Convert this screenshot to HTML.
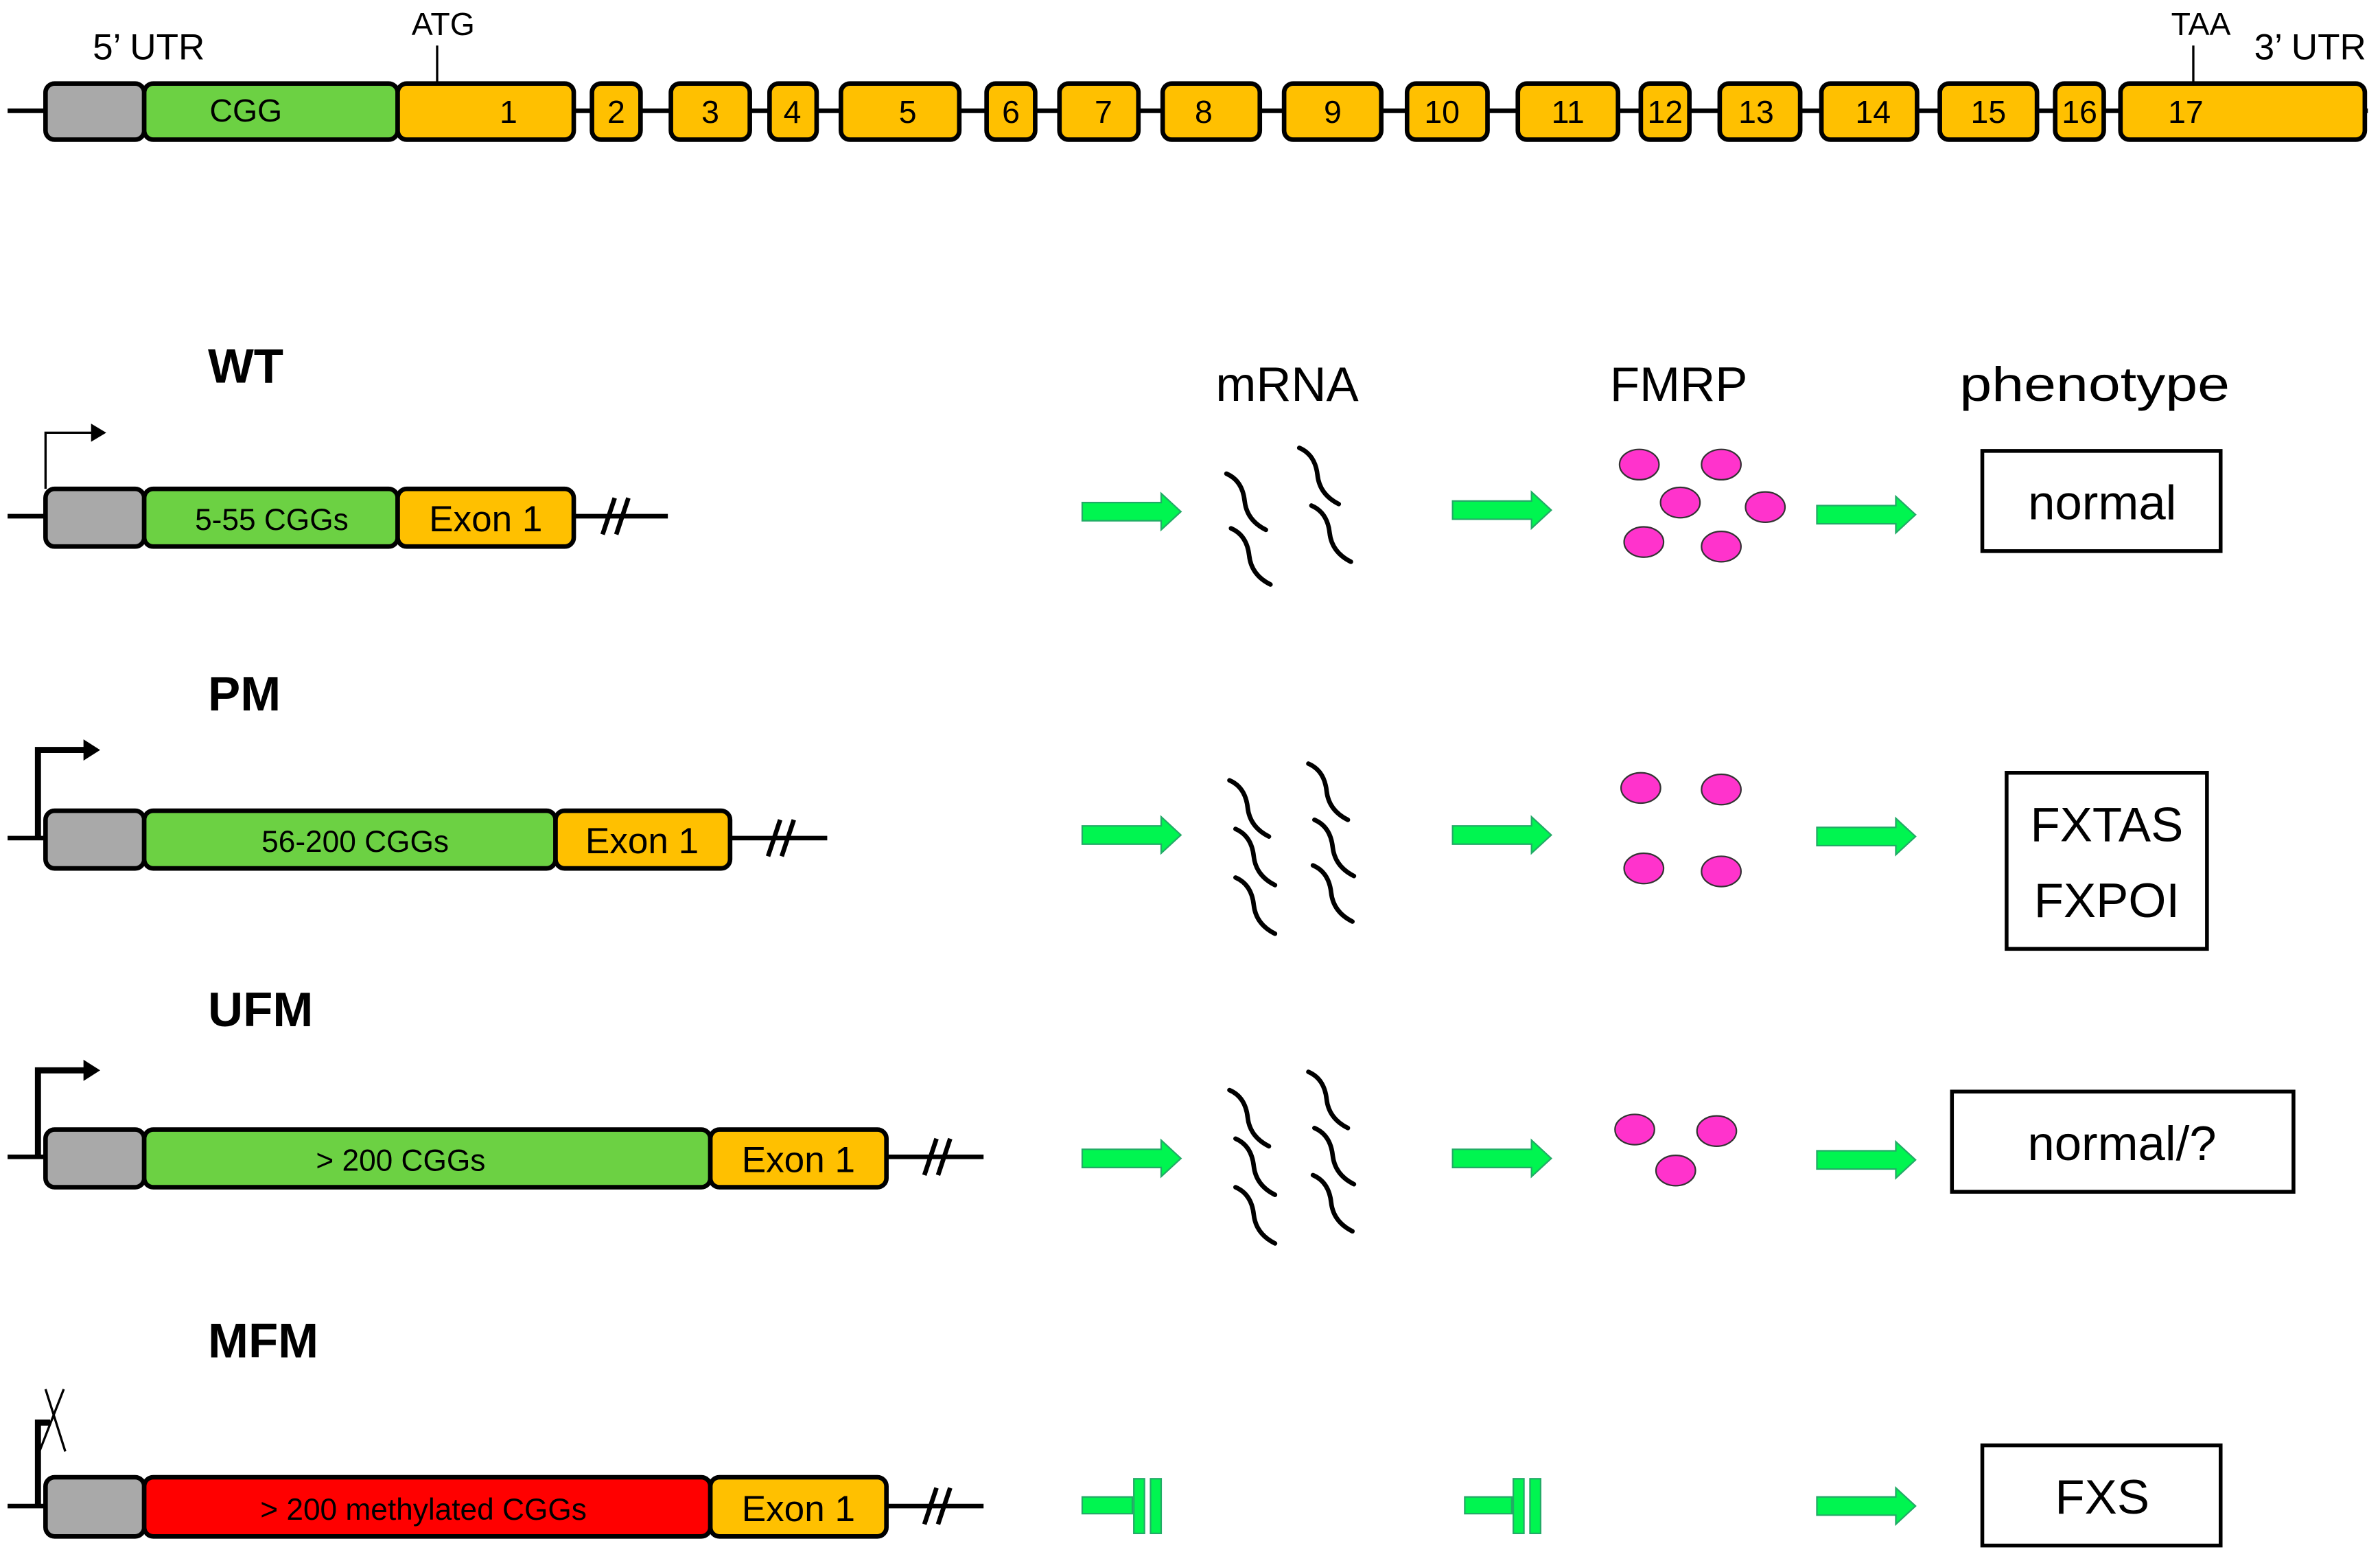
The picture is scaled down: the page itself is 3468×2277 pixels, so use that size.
<!DOCTYPE html>
<html><head><meta charset="utf-8"><style>html,body{margin:0;padding:0;background:#fff}svg{display:block}</style></head>
<body>
<svg width="3468" height="2277" viewBox="0 0 1568 1029.5" preserveAspectRatio="none" xmlns="http://www.w3.org/2000/svg" font-family="Liberation Sans, sans-serif">
<defs>
<g id="sq"><path d="M0,0 c7,3 11,9 12,18 c1,9 6,15 14,19" fill="none" stroke="#000" stroke-width="3" stroke-linecap="round"/></g>
<g id="ga"><path d="M0,-6 H52 V-12 L65,0 L52,12 V6 H0 Z" fill="#00f550" stroke="#2a6" stroke-width="1"/></g>
<g id="ov"><ellipse rx="13" ry="10" fill="#ff33cc" stroke="#333" stroke-width="1"/></g>
</defs>
<g stroke="#000" stroke-width="3">
<line x1="5" y1="73" x2="1560" y2="73"/>
<line x1="288" y1="30" x2="288" y2="55" stroke-width="1.5"/>
<line x1="1445" y1="30" x2="1445" y2="55" stroke-width="1.5"/>
<rect x="30" y="55" width="65" height="37" rx="6" fill="#a9a9a9"/>
<rect x="95" y="55" width="167" height="37" rx="6" fill="#6cd143"/>
<g fill="#ffc000">
<rect x="262" y="55" width="116" height="37" rx="6"/>
<rect x="390" y="55" width="32" height="37" rx="6"/>
<rect x="442" y="55" width="52" height="37" rx="6"/>
<rect x="507" y="55" width="31" height="37" rx="6"/>
<rect x="554" y="55" width="78" height="37" rx="6"/>
<rect x="650" y="55" width="32" height="37" rx="6"/>
<rect x="698" y="55" width="52" height="37" rx="6"/>
<rect x="766" y="55" width="64" height="37" rx="6"/>
<rect x="846" y="55" width="64" height="37" rx="6"/>
<rect x="927" y="55" width="53" height="37" rx="6"/>
<rect x="1000" y="55" width="66" height="37" rx="6"/>
<rect x="1081" y="55" width="32" height="37" rx="6"/>
<rect x="1133" y="55" width="53" height="37" rx="6"/>
<rect x="1200" y="55" width="63" height="37" rx="6"/>
<rect x="1278" y="55" width="64" height="37" rx="6"/>
<rect x="1354" y="55" width="32" height="37" rx="6"/>
<rect x="1397" y="55" width="161" height="37" rx="6"/>
</g>
<line x1="5" y1="340" x2="440" y2="340"/>
<polyline points="30,322 30,285 62,285" fill="none" stroke-width="1.5"/>
<rect x="30" y="322" width="65" height="38" rx="6" fill="#a9a9a9"/>
<rect x="95" y="322" width="167" height="38" rx="6" fill="#6cd143"/>
<rect x="262" y="322" width="116" height="38" rx="6" fill="#ffc000"/>
<line x1="397" y1="352" x2="405" y2="328"/><line x1="406" y1="352" x2="414" y2="328"/>
<line x1="5" y1="552" x2="545" y2="552"/>
<polyline points="25,552 25,494 56,494" fill="none" stroke-width="4"/>
<rect x="30" y="534" width="65" height="38" rx="6" fill="#a9a9a9"/>
<rect x="95" y="534" width="271" height="38" rx="6" fill="#6cd143"/>
<rect x="366" y="534" width="115" height="38" rx="6" fill="#ffc000"/>
<line x1="506" y1="564" x2="514" y2="540"/><line x1="515" y1="564" x2="523" y2="540"/>
<line x1="5" y1="762" x2="648" y2="762"/>
<polyline points="25,762 25,705 56,705" fill="none" stroke-width="4"/>
<rect x="30" y="744" width="65" height="38" rx="6" fill="#a9a9a9"/>
<rect x="95" y="744" width="373" height="38" rx="6" fill="#6cd143"/>
<rect x="468" y="744" width="116" height="38" rx="6" fill="#ffc000"/>
<line x1="609" y1="774" x2="617" y2="750"/><line x1="618" y1="774" x2="626" y2="750"/>
<line x1="5" y1="992" x2="648" y2="992"/>
<polyline points="25,992 25,937 33,937" fill="none" stroke-width="4"/>
<line x1="26" y1="956" x2="42" y2="915" stroke-width="1.5"/><line x1="30" y1="915" x2="43" y2="956" stroke-width="1.5"/>
<rect x="30" y="973" width="65" height="39" rx="6" fill="#a9a9a9"/>
<rect x="95" y="973" width="373" height="39" rx="6" fill="#ff0000"/>
<rect x="468" y="973" width="116" height="39" rx="6" fill="#ffc000"/>
<line x1="609" y1="1004" x2="617" y2="980"/><line x1="618" y1="1004" x2="626" y2="980"/>
<g fill="none" stroke-width="2.5">
<rect x="1306" y="297" width="157" height="66"/>
<rect x="1322" y="509" width="132" height="116"/>
<rect x="1286" y="719" width="225" height="66"/>
<rect x="1306" y="952" width="157" height="66"/>
</g>
</g>
<path d="M60,279 L70,285 L60,291" fill="#000"/>
<path d="M55,487 L66,494 L55,501 Z" fill="#000"/>
<path d="M55,698 L66,705 L55,712 Z" fill="#000"/>
<use href="#ga" x="713" y="337"/><use href="#ga" x="957" y="336"/><use href="#ga" x="1197" y="339"/>
<use href="#ga" x="713" y="550"/><use href="#ga" x="957" y="550"/><use href="#ga" x="1197" y="551"/>
<use href="#ga" x="713" y="763"/><use href="#ga" x="957" y="763"/><use href="#ga" x="1197" y="764"/>
<use href="#ga" x="1197" y="992"/>
<g fill="#00f550" stroke="#2a6" stroke-width="1">
<rect x="713" y="986" width="33" height="11"/><rect x="747" y="974" width="7" height="36"/><rect x="758" y="974" width="7" height="36"/>
<rect x="965" y="986" width="31" height="11"/><rect x="997" y="974" width="7" height="36"/><rect x="1008" y="974" width="7" height="36"/>
</g>
<use href="#sq" x="808" y="312"/><use href="#sq" x="856" y="295"/><use href="#sq" x="811" y="348"/><use href="#sq" x="864" y="333"/>
<use href="#sq" x="810" y="514"/><use href="#sq" x="862" y="503"/><use href="#sq" x="814" y="546"/><use href="#sq" x="866" y="540"/><use href="#sq" x="814" y="578"/><use href="#sq" x="865" y="570"/>
<use href="#sq" x="810" y="718"/><use href="#sq" x="862" y="706"/><use href="#sq" x="814" y="750"/><use href="#sq" x="866" y="743"/><use href="#sq" x="814" y="782"/><use href="#sq" x="865" y="774"/>
<use href="#ov" x="1080" y="306"/><use href="#ov" x="1134" y="306"/><use href="#ov" x="1107" y="331"/><use href="#ov" x="1163" y="334"/><use href="#ov" x="1083" y="357"/><use href="#ov" x="1134" y="360"/>
<use href="#ov" x="1081" y="519"/><use href="#ov" x="1134" y="520"/><use href="#ov" x="1083" y="572"/><use href="#ov" x="1134" y="574"/>
<use href="#ov" x="1077" y="744"/><use href="#ov" x="1131" y="745"/><use href="#ov" x="1104" y="771"/>
<g fill="#000" text-anchor="middle">
<text x="98" y="39" font-size="24">5’ UTR</text>
<text x="292" y="23" font-size="21">ATG</text>
<text x="1450" y="23" font-size="21">TAA</text>
<text x="1522" y="39" font-size="24">3’ UTR</text>
<text x="162" y="80" font-size="21">CGG</text>
<g font-size="21">
<text x="335" y="81">1</text><text x="406" y="81">2</text><text x="468" y="81">3</text><text x="522" y="81">4</text><text x="598" y="81">5</text><text x="666" y="81">6</text><text x="727" y="81">7</text><text x="793" y="81">8</text><text x="878" y="81">9</text><text x="950" y="81">10</text><text x="1033" y="81">11</text><text x="1097" y="81">12</text><text x="1157" y="81">13</text><text x="1234" y="81">14</text><text x="1310" y="81">15</text><text x="1370" y="81">16</text><text x="1440" y="81">17</text>
</g>
<text x="179" y="349" font-size="20">5-55 CGGs</text>
<text x="320" y="350" font-size="24">Exon 1</text>
<text x="234" y="561" font-size="20">56-200 CGGs</text>
<text x="423" y="562" font-size="24">Exon 1</text>
<text x="264" y="771" font-size="20">&gt; 200 CGGs</text>
<text x="526" y="772" font-size="24">Exon 1</text>
<text x="279" y="1001" font-size="20">&gt; 200 methylated CGGs</text>
<text x="526" y="1002" font-size="24">Exon 1</text>
<text x="848" y="264" font-size="32">mRNA</text>
<text x="1106" y="264" font-size="32">FMRP</text>
<text x="1380" y="264" font-size="32" textLength="178" lengthAdjust="spacingAndGlyphs">phenotype</text>
<text x="1385" y="342" font-size="32">normal</text>
<text x="1388" y="554" font-size="32">FXTAS</text>
<text x="1388" y="604" font-size="32">FXPOI</text>
<text x="1398" y="764" font-size="32">normal/?</text>
<text x="1385" y="997" font-size="32">FXS</text>
</g>
<g fill="#000" font-weight="bold" font-size="32">
<text x="137" y="252">WT</text>
<text x="137" y="468">PM</text>
<text x="137" y="676">UFM</text>
<text x="137" y="894">MFM</text>
</g>
</svg>
</body></html>
